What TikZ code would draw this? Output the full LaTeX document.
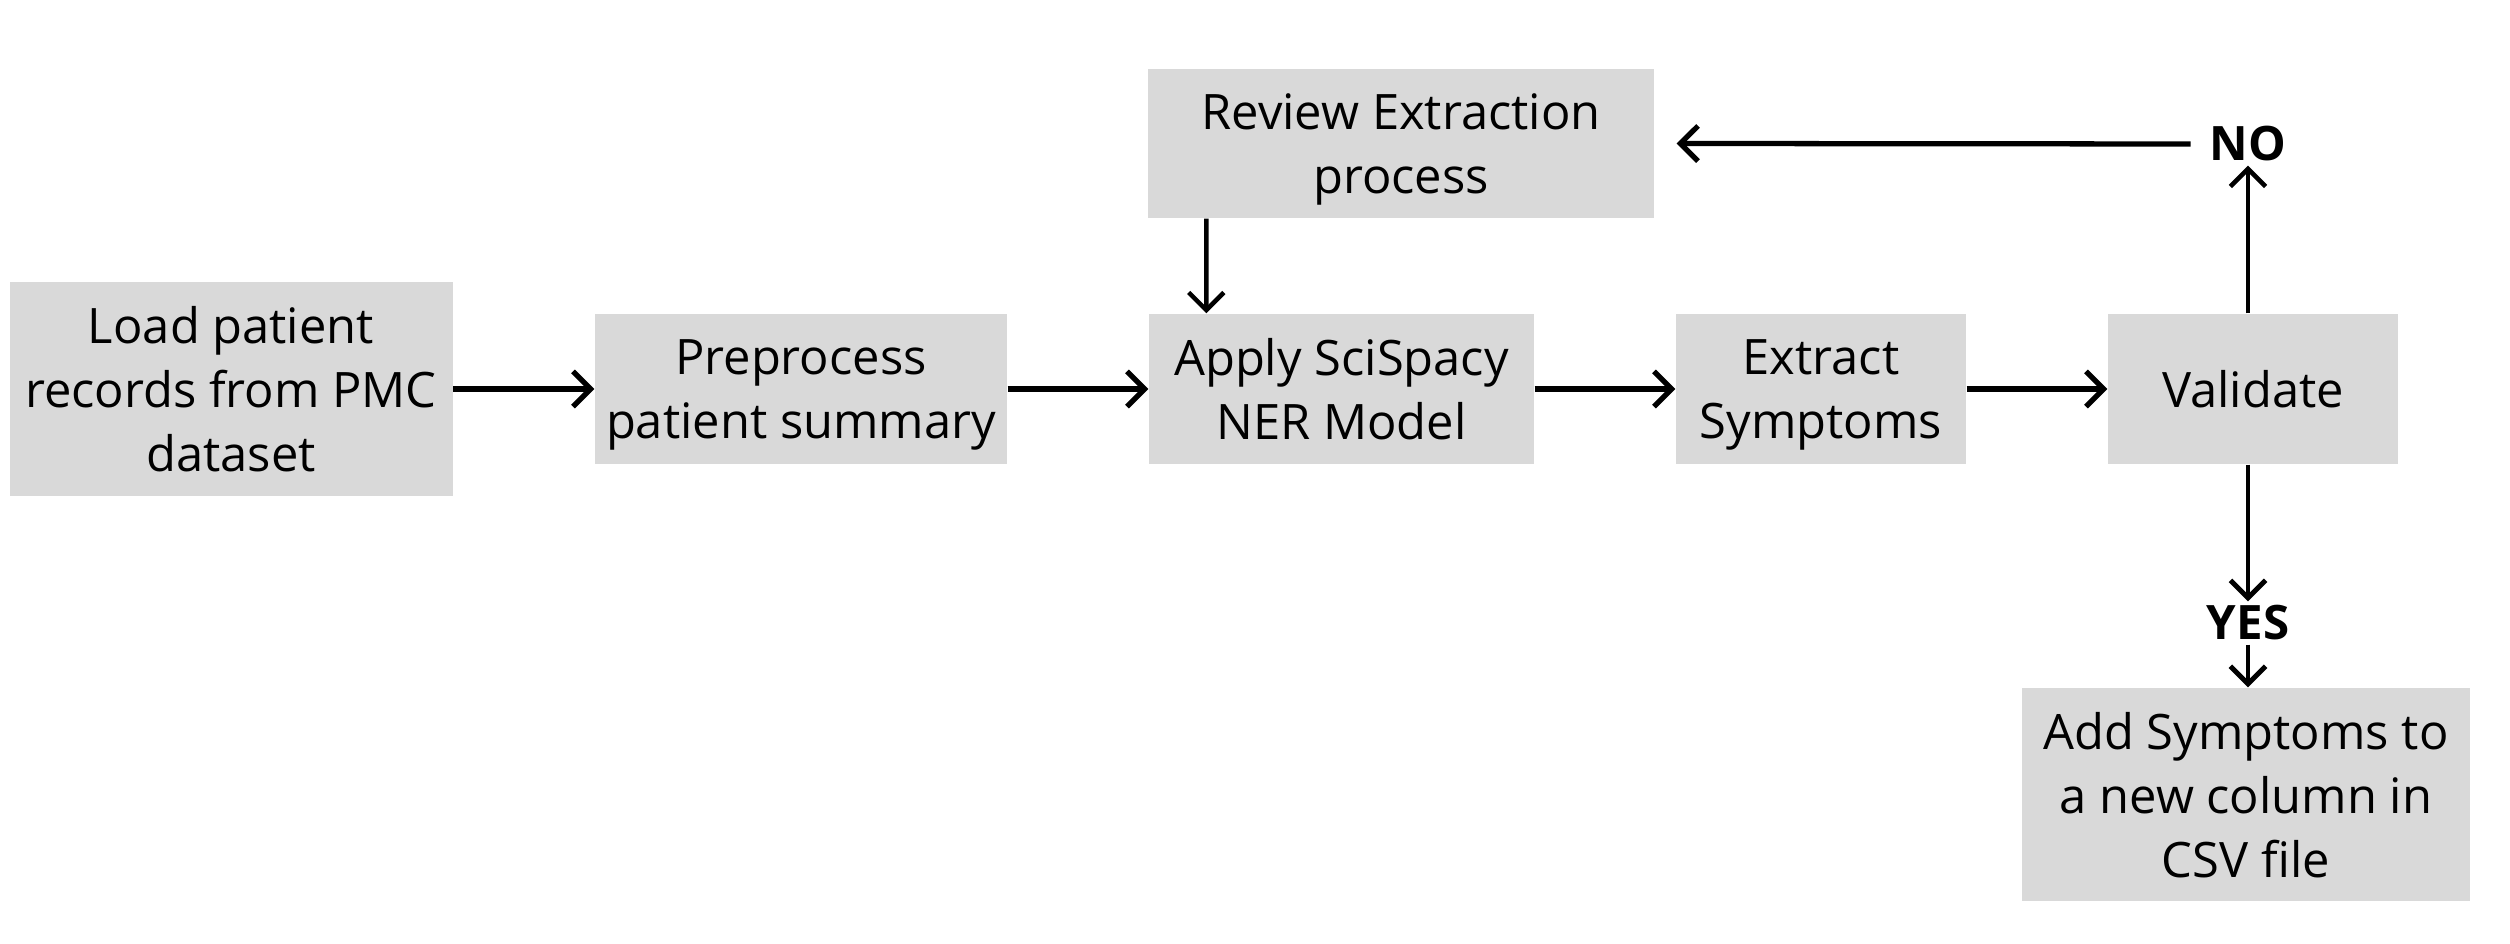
\documentclass[tikz,border=0pt]{standalone}
\usepackage{fontspec}
\setmainfont{Open Sans}
\usetikzlibrary{graphs}
\usetikzlibrary{calc}
\usetikzlibrary{arrows.meta}
\definecolor{boxgray}{HTML}{D9D9D9}
\tikzset{
  box/.style= {fill=boxgray, align=center, inner sep=0pt, text depth=0pt, font=\fontsize{13.9}{18.2}\selectfont},
  lbl/.style= {font=\fontsize{13.5}{18}\selectfont\bfseries, inner sep=1pt},
  >={Straight Barb[length=5pt, width=10pt]},
}

\begin{document}
\begin{tikzpicture}
  \useasboundingbox (0,0) rectangle (25.10,9.44);
  \node [box, minimum width=4.43cm, minimum height=2.14cm] (load) at (2.31,5.55) {Load patient\\records from PMC\\dataset} ;
  \node [box, minimum width=4.12cm, minimum height=1.50cm] (prep) at (8.01,5.55) {Preprocess\\patient summary} ;
  \node [box, minimum width=3.85cm, minimum height=1.50cm] (apply) at (13.415,5.55) {Apply SciSpacy\\NER Model} ;
  \node [box, minimum width=5.06cm, minimum height=1.49cm] (review) at (14.01,8.005) {Review Extraction\\process} ;
  \node [box, minimum width=2.90cm, minimum height=1.50cm] (extract) at (18.21,5.55) {Extract\\Symptoms} ;
  \node [box, minimum width=2.90cm, minimum height=1.50cm] (valid) at (22.53,5.55) {Validate} ;
  \node [box, minimum width=4.48cm, minimum height=2.13cm] (add) at (22.46,1.495) {Add Symptoms to\\a new column in\\CSV file} ;
  \node [lbl] (no) at (22.48,8.00) {NO} ;
  \node [lbl] (yes) at (22.48,3.21) {YES} ;

  \graph [edges={line width=1.5pt}] {
    (load) -> (prep) -> (apply) -> (extract) -> (valid) ;
  } ;
  \draw [->, line width=1.5pt, shorten <=0.15cm, shorten >=0.22cm] (no.west) -- (review.east) ;
  \draw [->, line width=1.3pt] (valid.north -| no.south) -- (no.south) ;
  \draw [->, line width=1.3pt] ($(review.south west)+(0.59,0)$) -- ($(apply.north west)+(0.58,0)$) ;
  \draw [->, line width=1.4pt] (valid.south -| yes.north) -- (yes.north) ;
  \draw [->, line width=1.4pt] (yes.south) -- (yes.south |- add.north) ;
\end{tikzpicture}
\end{document}
